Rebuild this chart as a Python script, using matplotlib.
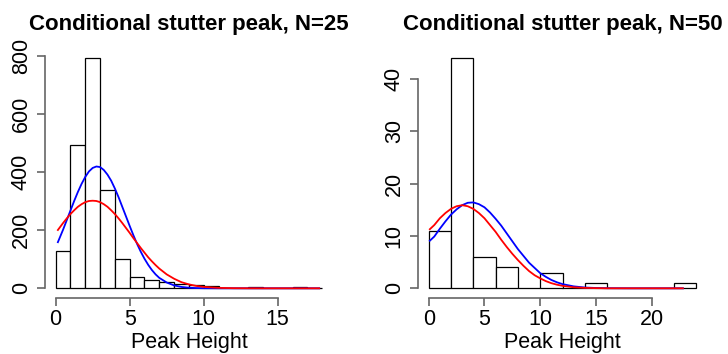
import matplotlib.pyplot as plt
import numpy as np

plt.rcParams['font.family'] = ['Liberation Sans', 'DejaVu Sans']

fontsize = 15.5
titlesize = 16

# left panel: N=25
left_title = "Conditional stutter peak, N=25"
left_breaks = list(range(0, 19))
left_counts = [128, 495, 793, 340, 100, 38, 28, 20, 14, 12, 7, 2, 1, 5, 1, 1, 5, 2]
left_x = [0.15, 0.5, 0.75, 1, 1.25, 1.5, 1.75, 2, 2.25, 2.5, 2.75, 3, 3.25, 3.5,
          3.75, 4, 4.25, 4.5, 4.75, 5, 5.25, 5.5, 5.75, 6, 6.25, 6.5, 6.75, 7,
          7.5, 8, 8.5, 9, 9.5, 10, 11, 12, 13, 14, 15, 16, 17, 17.8]
left_blue = [159, 202, 235, 268, 301, 332, 360, 384, 403, 415, 420, 418, 408, 392,
             371, 344, 314, 281, 248, 215, 183, 153, 126, 102, 81, 63, 48, 36,
             20, 10, 4.7, 2.0, 0.8, 0.3, 0.03, 0, 0, 0, 0, 0, 0, 0]
left_red = [201, 225, 241, 256, 269, 281, 290, 297, 301, 302, 301, 297, 290, 281,
            269, 256, 241, 225, 208, 191, 173, 156, 139, 123, 107, 93, 80, 68,
            48, 33, 21, 13.5, 8.2, 4.8, 1.5, 0.4, 0.1, 0, 0, 0, 0, 0]
left_xticks = [0, 5, 10, 15]
left_yticks = [0, 200, 400, 600, 800]

# right panel: N=50
right_title = "Conditional stutter peak, N=50"
right_breaks = list(range(0, 25, 2))
right_counts = [11, 44, 6, 4, 0, 3, 0, 1, 0, 0, 0, 1]
right_x = [0.1, 0.5, 1, 1.5, 2, 2.5, 3, 3.5, 4, 4.5, 5, 5.5, 6, 6.5, 7, 7.5, 8,
           8.5, 9, 9.5, 10, 10.5, 11, 11.5, 12, 13, 14, 15, 16, 18, 20, 22.8]
right_blue = [9.1, 9.9, 11.4, 12.8, 14.1, 15.1, 15.9, 16.36, 16.43, 16.1, 15.5,
              14.5, 13.3, 12.0, 10.5, 9.0, 7.5, 6.2, 4.9, 3.9, 2.9, 2.2, 1.6,
              1.15, 0.8, 0.37, 0.15, 0.06, 0.02, 0, 0, 0]
right_red = [11.3, 12.1, 13.4, 14.4, 15.2, 15.7, 15.9, 15.7, 15.2, 14.4, 13.4,
             12.1, 10.8, 9.3, 7.9, 6.6, 5.4, 4.3, 3.3, 2.5, 1.9, 1.38, 0.98,
             0.69, 0.47, 0.2, 0.08, 0.03, 0, 0, 0, 0]
right_xticks = [0, 5, 10, 15, 20]
right_yticks = [0, 10, 20, 30, 40]

axcol = '#666666'


def draw(ax, title, breaks, counts, x, blue, red, xticks, yticks):
    breaks = np.array(breaks)
    ax.bar(breaks[:-1], counts, width=np.diff(breaks), align='edge',
           color='white', edgecolor='black', linewidth=0.9)
    ax.plot(x, blue, color='blue', lw=1.3)
    ax.plot(x, red, color='red', lw=1.3)

    # R style extents: 4% padding around data range
    xr = breaks[-1] - breaks[0]
    yr = max(counts)
    ax.set_xlim(breaks[0] - 0.04 * xr, breaks[-1] + 0.04 * xr)
    ax.set_ylim(-0.04 * yr, yr * 1.04)

    for s in ['top', 'right']:
        ax.spines[s].set_visible(False)
    ax.spines['bottom'].set_bounds(xticks[0], xticks[-1])
    ax.spines['left'].set_bounds(yticks[0], yticks[-1])
    for s in ['bottom', 'left']:
        ax.spines[s].set_color(axcol)
        ax.spines[s].set_linewidth(1.2)

    ax.set_xticks(xticks)
    ax.set_yticks(yticks)
    ax.set_yticklabels([str(v) for v in yticks], rotation=90, va='center')
    ax.tick_params(length=6, width=1.2, color=axcol, labelsize=fontsize)
    ax.tick_params(axis='x', pad=2.5)
    ax.tick_params(axis='y', pad=3.5)

    ax.set_xlabel('Peak Height', fontsize=fontsize, va='baseline')
    ax.xaxis.set_label_coords(0.5, -0.2053)
    ax.text(0.5, 1.0769, title, transform=ax.transAxes, ha='center',
            va='baseline', fontsize=titlesize, fontweight='bold')


fig = plt.figure(figsize=(7.28, 3.54), dpi=100)
ax1 = fig.add_axes([45 / 728, 56.5 / 354, 287.8 / 728, 248.4 / 354])
ax2 = fig.add_axes([418 / 728, 56.5 / 354, 289 / 728, 248.4 / 354])

draw(ax1, left_title, left_breaks, left_counts, left_x, left_blue, left_red,
     left_xticks, left_yticks)
draw(ax2, right_title, right_breaks, right_counts, right_x, right_blue, right_red,
     right_xticks, right_yticks)

fig.savefig('out.png', dpi=100)
